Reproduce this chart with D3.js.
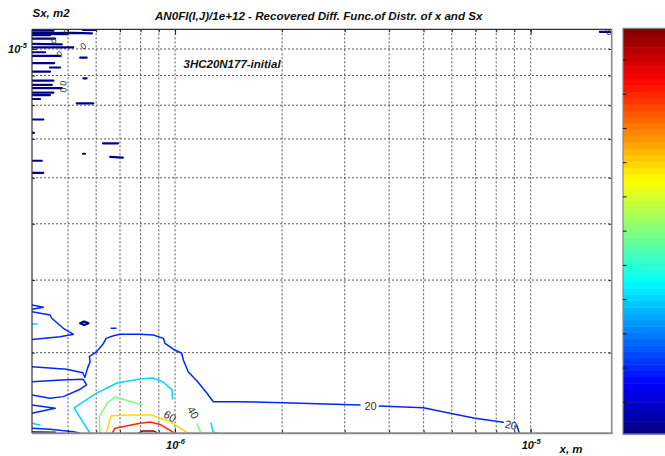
<!DOCTYPE html>
<html>
<head>
<meta charset="utf-8">
<script src="https://cdn.jsdelivr.net/npm/d3@7"></script>
<style>
  body { margin: 0; background: #fff; }
  svg { display: block; }
  text { font-family: "Liberation Sans", Arial, sans-serif; }
</style>
</head>
<body>
<svg id="chart" width="665" height="456"></svg>
<script>
// ---- axis extents and ticks (x in m, Sx in m^2) ----
const xDomain = [0.396e-6, 16.9e-6];
const yDomain = [2.179e-6, 10.81e-6];
const xMajorTicks = [1e-6, 1e-5];
const yMajorTicks = [1e-5];
const xGrid = [5e-7, 6e-7, 7e-7, 8e-7, 9e-7, 1e-6, 2e-6, 3e-6, 4e-6, 5e-6, 6e-6, 7e-6, 8e-6, 9e-6, 1e-5];
const yGrid = [3e-6, 4e-6, 5e-6, 6e-6, 7e-6, 8e-6, 9e-6, 1e-5];

// colour axis of AN0FI/1e+12 and its colorbar ticks
const colorRange = [0.74, 119.26];
const colorbarTicks = [10, 20, 30, 40, 50, 60, 70, 80, 90, 100, 110];

// ---- contour lines: points are [x in µm, Sx in 1e-6 m^2] ----
const c0Lines = [
  [[0.396, 10.75], [0.455, 10.75]],
  [[0.551, 10.78], [0.596, 10.78]],
  [[0.396, 10.65], [0.520, 10.66], [0.584, 10.64]],
  [[0.396, 10.61], [0.496, 10.60]],
  [[0.396, 10.56], [0.445, 10.56]],
  [[0.396, 10.42], [0.460, 10.42]],
  [[0.396, 10.20], [0.480, 10.18]],
  [[0.396, 10.06], [0.517, 10.06]],
  [[0.396, 9.87], [0.431, 9.87]],
  [[0.396, 9.73], [0.475, 9.73]],
  [[0.541, 9.66], [0.564, 9.66]],
  [[0.396, 9.45], [0.457, 9.45]],
  [[0.445, 9.29], [0.475, 9.29]],
  [[0.396, 9.14], [0.445, 9.14]],
  [[0.552, 8.90], [0.564, 8.90]],
  [[0.396, 8.82], [0.455, 8.82]],
  [[0.396, 8.67], [0.450, 8.67]],
  [[0.396, 8.56], [0.480, 8.56]],
  [[0.396, 8.41], [0.455, 8.41]],
  [[0.396, 8.33], [0.445, 8.33]],
  [[0.396, 8.20], [0.417, 8.20]],
  [[0.529, 8.06], [0.589, 8.06]],
  [[0.396, 7.56], [0.426, 7.56]],
  [[0.396, 7.17], [0.401, 7.17]],
  [[0.627, 6.88], [0.692, 6.88]],
  [[0.551, 6.60], [0.558, 6.60]],
  [[0.657, 6.52], [0.713, 6.50]],
  [[0.396, 6.42], [0.422, 6.42]],
  [[0.396, 6.12], [0.426, 6.12]],
  [[15.66, 10.70], [16.9, 10.70]],
  [[0.541, 3.371], [0.555, 3.395], [0.571, 3.371], [0.555, 3.348], [0.541, 3.371]],
  [[0.396, 2.188], [0.460, 2.185]]
];

const c20Lines = [
  [[0.396, 2.838], [0.496, 2.808], [0.550, 2.770], [0.558, 2.720], [0.567, 2.819],
   [0.577, 2.894], [0.574, 2.953], [0.602, 3.012], [0.629, 3.112], [0.640, 3.175],
   [0.671, 3.208], [0.700, 3.226], [0.797, 3.226], [0.869, 3.217], [0.927, 3.175],
   [0.937, 3.112], [0.989, 3.041], [1.044, 2.993], [1.055, 2.914], [1.090, 2.779],
   [1.153, 2.682], [1.228, 2.557], [1.281, 2.470], [1.491, 2.470], [2.016, 2.460],
   [3.312, 2.438]],
  [[3.753, 2.428], [4.990, 2.412], [5.932, 2.359], [6.973, 2.313], [8.375, 2.276]],
  [[9.134, 2.252], [9.290, 2.179]],
  [[0.396, 2.674], [0.480, 2.692], [0.552, 2.699], [0.564, 2.639], [0.541, 2.595],
   [0.485, 2.520], [0.445, 2.504], [0.396, 2.537]],
  [[0.396, 2.438], [0.460, 2.406], [0.413, 2.374], [0.396, 2.359]],
  [[0.396, 2.223], [0.445, 2.214], [0.518, 2.193], [0.541, 2.179]],
  [[0.396, 3.624], [0.426, 3.591], [0.396, 3.563]],
  [[0.396, 3.529], [0.445, 3.483], [0.450, 3.438], [0.485, 3.304], [0.518, 3.226],
   [0.475, 3.195], [0.396, 3.162]],
  [[0.661, 3.304], [0.682, 3.304]]
];

const c40Lines = [
  [[0.577, 2.179], [0.520, 2.409], [0.603, 2.557], [0.687, 2.660], [0.797, 2.702],
   [0.867, 2.713], [0.925, 2.671], [0.981, 2.588], [0.983, 2.497]],
  [[1.262, 2.270], [1.279, 2.191], [1.313, 2.179]],
  [[0.396, 3.361], [0.409, 3.361]],
  [[0.396, 2.267], [0.417, 2.252]]
];

const c60Lines = [
  [[0.615, 2.179], [0.612, 2.325], [0.644, 2.457], [0.678, 2.517], [0.724, 2.487], [0.808, 2.438]],
  [[1.153, 2.261], [1.183, 2.179]]
];

const c80Lines = [
  [[0.640, 2.179], [0.661, 2.337], [0.731, 2.343], [0.856, 2.343], [0.968, 2.282], [1.090, 2.179]]
];

const c100Lines = [
  [[0.665, 2.179], [0.678, 2.223], [0.797, 2.267], [0.851, 2.279], [0.907, 2.257], [1.000, 2.179]]
];

const c120Lines = [
  [[0.789, 2.179], [0.815, 2.200], [0.869, 2.200], [0.897, 2.179]]
];

// inline contour labels: level, position [µm, 1e-6 m^2], text angle
const contourLabels = [
  { level: 20, at: [3.545, 2.423], angle: 0 },
  { level: 20, at: [8.80, 2.252], angle: 12 },
  { level: 40, at: [1.124, 2.365], angle: 60 },
  { level: 60, at: [0.968, 2.331], angle: 30 },
  { level: 0, at: [0.496, 10.69], angle: -35 },
  { level: 0, at: [0.455, 10.34], angle: -35 },
  { level: 0, at: [0.552, 10.12], angle: -35 },
  { level: 0, at: [0.473, 9.79], angle: -35 },
  { level: 0, at: [0.485, 8.73], angle: -80 },
  { level: 0, at: [0.485, 8.50], angle: -80 },
  { level: 0, at: [16.5, 10.70], angle: -35 }
];

const levelSets = [
  { level: 0, lines: c0Lines, width: 2.2 },
  { level: 20, lines: c20Lines, width: 1.5 },
  { level: 40, lines: c40Lines, width: 1.5 },
  { level: 60, lines: c60Lines, width: 1.5 },
  { level: 80, lines: c80Lines, width: 1.5 },
  { level: 100, lines: c100Lines, width: 1.5 },
  { level: 120, lines: c120Lines, width: 1.5 }
];

// ---- layout ----
const plot = { left: 32, top: 29.3, right: 611.7, bottom: 433.3 };
const cbar = { left: 623, width: 60, top: 28.3, bottom: 434 };
const FONT = '"Liberation Sans", Arial, sans-serif';

const svg = d3.select("#chart");

const x = d3.scaleLog().domain(xDomain).range([plot.left, plot.right]);
const y = d3.scaleLog().domain(yDomain).range([plot.bottom, plot.top]);

// MATLAB-style jet colormap with 64 steps
function jet(t) {
  const c = v => Math.max(0, Math.min(1, v));
  const r = c(1.5 - Math.abs(4 * t - 3));
  const g = c(1.5 - Math.abs(4 * t - 2));
  const b = c(1.5 - Math.abs(4 * t - 1));
  return d3.rgb(r * 255, g * 255, b * 255).formatHex();
}
const NCOL = 64;
function levelColor(v) {
  const t = (v - colorRange[0]) / (colorRange[1] - colorRange[0]);
  const idx = Math.max(0, Math.min(NCOL - 1, Math.floor(t * NCOL)));
  return jet((idx + 0.5) / NCOL);
}

// clip for plot area
svg.append("defs").append("clipPath").attr("id", "plotClip")
  .append("rect")
  .attr("x", plot.left).attr("y", plot.top)
  .attr("width", plot.right - plot.left).attr("height", plot.bottom - plot.top);

// grid
const grid = svg.append("g").attr("stroke", "#444").attr("stroke-width", 0.9)
  .attr("stroke-dasharray", "2,2");
grid.selectAll("line.gx").data(xGrid).join("line")
  .attr("x1", d => x(d)).attr("x2", d => x(d))
  .attr("y1", plot.top).attr("y2", plot.bottom);
grid.selectAll("line.gy").data(yGrid).join("line")
  .attr("y1", d => y(d)).attr("y2", d => y(d))
  .attr("x1", plot.left).attr("x2", plot.right);

// contour lines
const line = d3.line()
  .x(d => x(d[0] * 1e-6))
  .y(d => y(d[1] * 1e-6));

const contourG = svg.append("g").attr("clip-path", "url(#plotClip)")
  .attr("fill", "none").attr("stroke-linejoin", "round").attr("stroke-linecap", "round");
levelSets.forEach(set => {
  contourG.append("g")
    .attr("stroke", levelColor(set.level))
    .attr("stroke-width", set.width)
    .selectAll("path").data(set.lines).join("path")
    .attr("d", line);
});

// contour labels
svg.append("g").selectAll("text").data(contourLabels).join("text")
  .attr("transform", d => `translate(${x(d.at[0] * 1e-6)},${y(d.at[1] * 1e-6)}) rotate(${d.angle})`)
  .attr("text-anchor", "middle")
  .attr("dy", "0.35em")
  .attr("font-size", d => d.level === 0 ? 9 : 11)
  .attr("fill", "#333")
  .text(d => d.level);

// axes (inward ticks on all four sides)
function supLabel(sel) {
  sel.selectAll(".tick text").each(function (d) {
    const t = d3.select(this);
    t.text(null);
    t.append("tspan").text("10");
    t.append("tspan").attr("dy", -5).attr("font-size", 7.5).text(String(Math.round(Math.log10(d))));
  });
}

const axisStyle = g => {
  g.select(".domain").remove();
  g.selectAll(".tick line").attr("stroke", "#222");
  g.selectAll(".tick text").attr("font-family", FONT).attr("font-weight", "bold")
    .attr("font-style", "italic").attr("font-size", 11).attr("fill", "#111");
};

// bottom minor + major
svg.append("g").attr("transform", `translate(0,${plot.bottom})`)
  .call(d3.axisBottom(x).tickValues(xGrid).tickSize(-3).tickFormat(""))
  .call(axisStyle);
const xAx = svg.append("g").attr("transform", `translate(0,${plot.bottom})`)
  .call(d3.axisBottom(x).tickValues(xMajorTicks).tickSize(-5).tickPadding(16))
  .call(axisStyle);
xAx.selectAll(".tick text").attr("dy", 0);
supLabel(xAx);

// top
svg.append("g").attr("transform", `translate(0,${plot.top})`)
  .call(d3.axisTop(x).tickValues(xGrid).tickSize(-3).tickFormat(""))
  .call(axisStyle);
svg.append("g").attr("transform", `translate(0,${plot.top})`)
  .call(d3.axisTop(x).tickValues(xMajorTicks).tickSize(-5).tickFormat(""))
  .call(axisStyle);

// left
svg.append("g").attr("transform", `translate(${plot.left},0)`)
  .call(d3.axisLeft(y).tickValues(yGrid).tickSize(-3).tickFormat(""))
  .call(axisStyle);
const yAx = svg.append("g").attr("transform", `translate(${plot.left},0)`)
  .call(d3.axisLeft(y).tickValues(yMajorTicks).tickSize(-5).tickPadding(5))
  .call(axisStyle);
yAx.selectAll(".tick text").attr("dy", 4);
supLabel(yAx);

// right
svg.append("g").attr("transform", `translate(${plot.right},0)`)
  .call(d3.axisRight(y).tickValues(yGrid).tickSize(-3).tickFormat(""))
  .call(axisStyle);

// plot box
svg.append("line").attr("x1", plot.left).attr("x2", plot.right).attr("y1", plot.top).attr("y2", plot.top)
  .attr("stroke", "#333").attr("stroke-width", 1.2);
svg.append("line").attr("x1", plot.left).attr("x2", plot.left).attr("y1", plot.top).attr("y2", plot.bottom)
  .attr("stroke", "#333").attr("stroke-width", 1.2);
svg.append("line").attr("x1", plot.left).attr("x2", plot.right + 1).attr("y1", plot.bottom).attr("y2", plot.bottom)
  .attr("stroke", "#8a8a8a").attr("stroke-width", 2);
svg.append("line").attr("x1", plot.right).attr("x2", plot.right).attr("y1", plot.top).attr("y2", plot.bottom)
  .attr("stroke", "#8a8a8a").attr("stroke-width", 1.6);

// texts
const txt = (s, xx, yy, size, anchor) => svg.append("text")
  .attr("x", xx).attr("y", yy).attr("font-size", size)
  .attr("font-weight", "bold").attr("font-style", "italic")
  .attr("text-anchor", anchor || "start").attr("fill", "#111").text(s);

txt("Sx, m2", 32.5, 17, 11.5);
txt("AN0FI(I,J)/1e+12 - Recovered Diff. Func.of Distr. of x and Sx", 155, 20, 11.6);
txt("3HC20N177-initial", 183.5, 67.5, 11.5);
txt("x, m", 559.5, 453, 11.5);

// colorbar
const cScale = d3.scaleLinear().domain(colorRange).range([cbar.bottom, cbar.top]);
const steps = d3.range(NCOL).map(i => colorRange[0] + (i / NCOL) * (colorRange[1] - colorRange[0]));
const stepH = (colorRange[1] - colorRange[0]) / NCOL;
const cb = svg.append("g");
cb.selectAll("rect").data(steps).join("rect")
  .attr("x", cbar.left).attr("width", cbar.width)
  .attr("y", d => cScale(d + stepH))
  .attr("height", d => cScale(d) - cScale(d + stepH) + 0.5)
  .attr("fill", (d, i) => jet((i + 0.5) / NCOL));
cb.append("rect").attr("x", cbar.left).attr("y", cbar.top)
  .attr("width", cbar.width).attr("height", cbar.bottom - cbar.top)
  .attr("fill", "none").attr("stroke", "#888").attr("stroke-width", 1.2);
cb.selectAll("line").data(colorbarTicks).join("line")
  .attr("x1", cbar.left).attr("x2", cbar.left + 3.5)
  .attr("y1", d => cScale(d)).attr("y2", d => cScale(d))
  .attr("stroke", "#111").attr("stroke-width", 1);
</script>
</body>
</html>
